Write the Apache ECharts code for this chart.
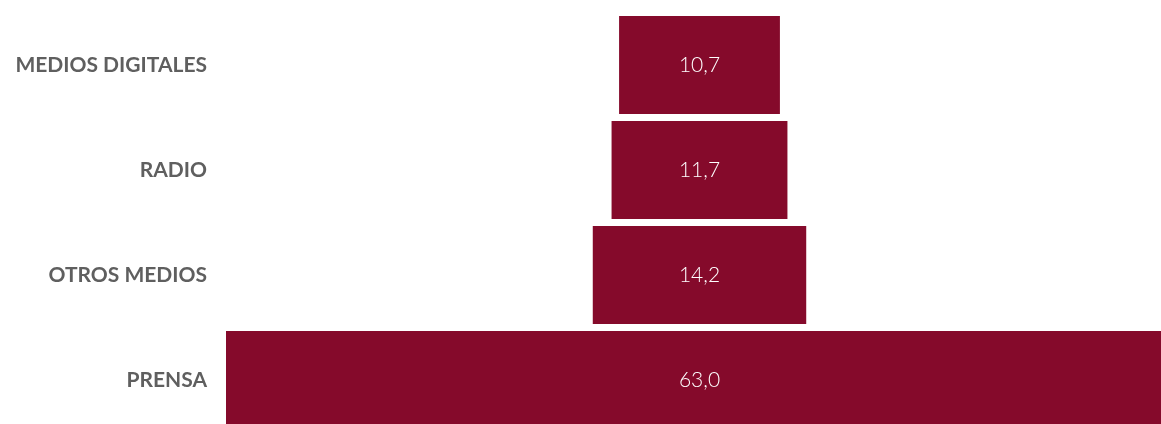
<!DOCTYPE html>
<html><head><meta charset="utf-8">
<script src="https://cdn.jsdelivr.net/npm/echarts@6/dist/echarts.min.js"></script>
<style>html,body{margin:0;padding:0;background:#fff}#c{width:1161px;height:424px}</style>
</head><body><div id="c"></div>
<script>
const categories = ['MEDIOS DIGITALES', 'RADIO', 'OTROS MEDIOS', 'PRENSA'];
const values = [10.7, 11.7, 14.2, 63.0];
const maxValue = 63.0;
const offsets = values.map(v => (maxValue - v) / 2);

const chart = echarts.init(document.getElementById('c'));
chart.setOption({
  animation: false,
  grid: { left: 226, top: 12.5, width: 947, height: 420, containLabel: false, outerBoundsMode: 'none' },
  xAxis: { type: 'value', min: 0, max: maxValue, show: false },
  yAxis: {
    type: 'category', data: categories, inverse: true,
    axisLine: { show: false }, axisTick: { show: false },
    axisLabel: { margin: 19, color: '#5f5f5f', fontFamily: 'Lato', fontWeight: 'bold', fontSize: 21 }
  },
  series: [
    { type: 'bar', stack: 'f', data: offsets, itemStyle: { color: 'transparent' }, barCategoryGap: '6.5%', silent: true },
    { type: 'bar', stack: 'f', data: values, barCategoryGap: '6.5%',
      itemStyle: { color: '#850a2b' },
      label: { show: true, position: 'inside', color: '#ffffff', fontFamily: 'Lato', fontSize: 21, fontWeight: 300,
        formatter: p => p.value.toFixed(1).replace('.', ',') } }
  ]
});
</script></body></html>
